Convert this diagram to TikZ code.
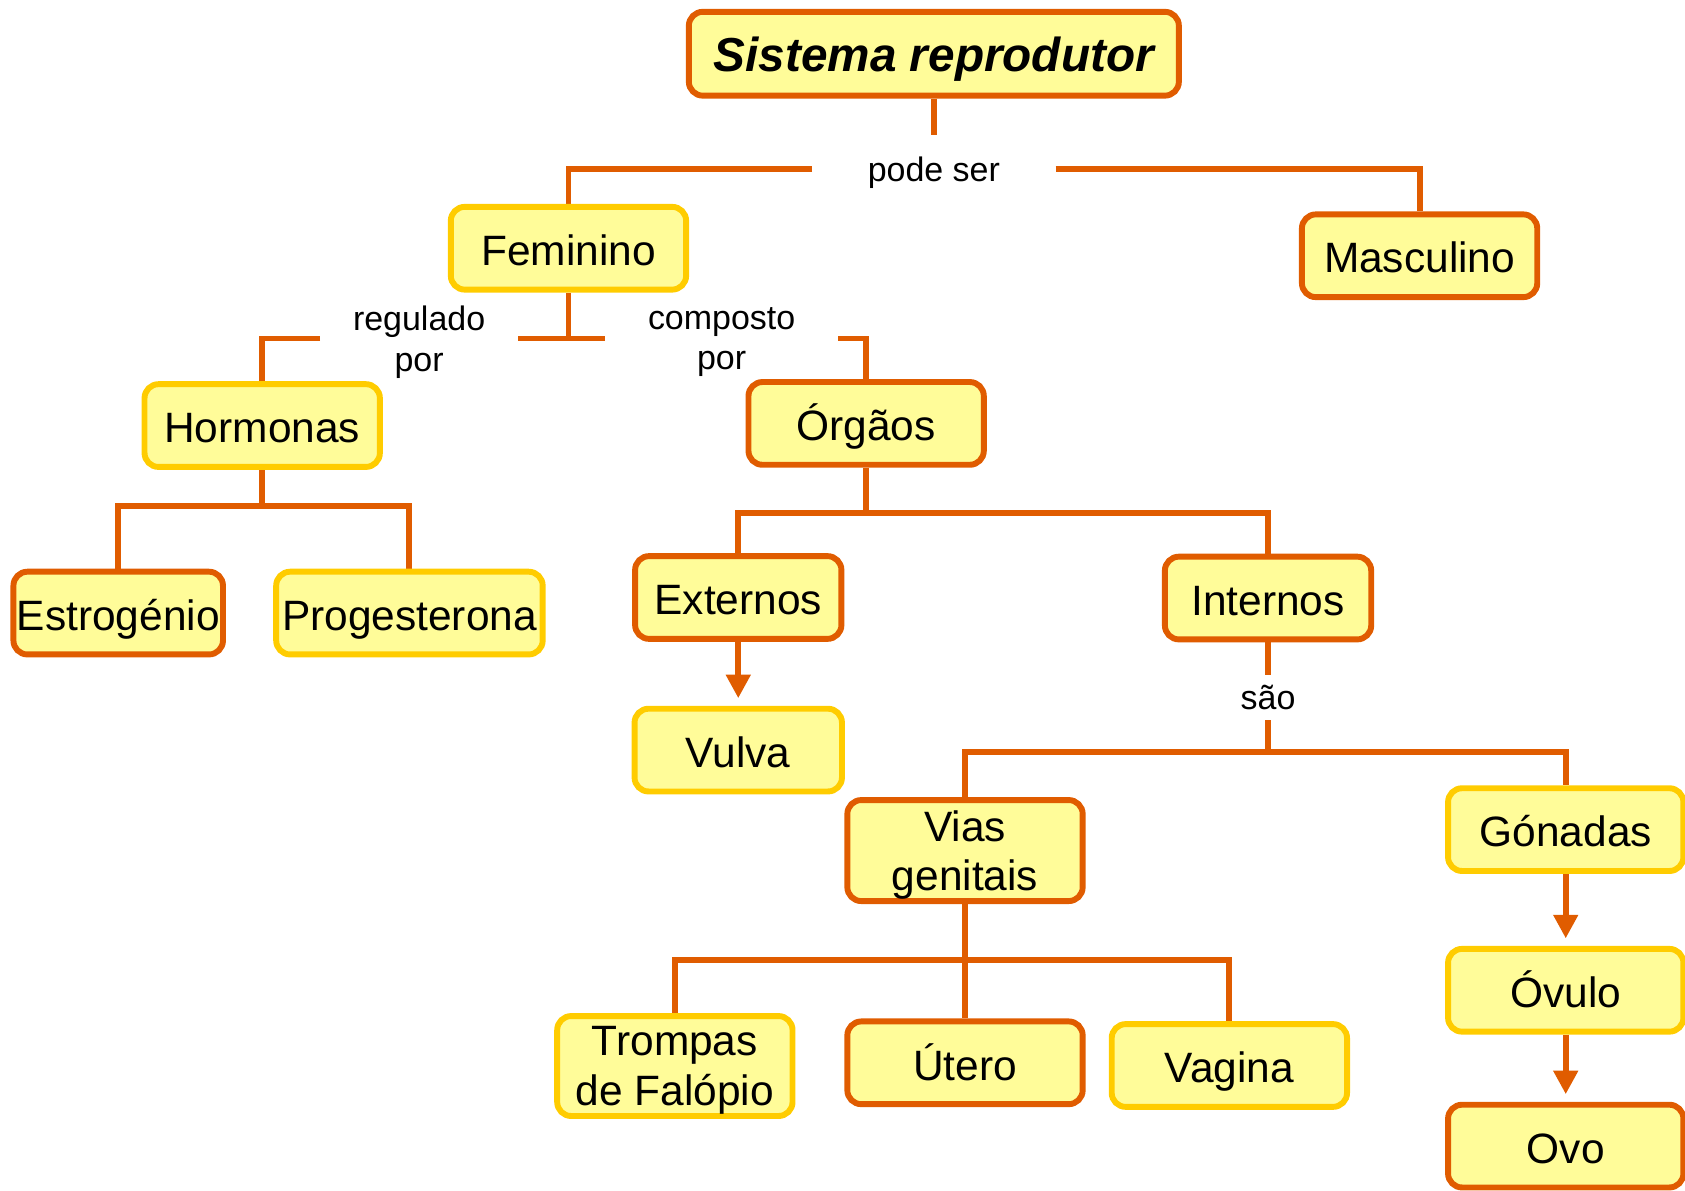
\documentclass[tikz,border=0pt]{standalone}
\usepackage{fontspec}
\setmainfont{Liberation Sans}
\usetikzlibrary{arrows.meta,backgrounds}
\definecolor{laranja}{HTML}{E05C00}
\definecolor{ouro}{HTML}{FFCC00}
\definecolor{amarelo}{HTML}{FFFC99}
\tikzset{
	caixa/.style={rectangle, rounded corners=13pt, fill=amarelo, line width=5.5pt, minimum width=219pt, minimum height=77pt, align=center, inner sep=0pt, text height=36pt, text depth=4pt, font=\fontsize{39.5}{46}\selectfont},
	cl/.style={caixa, draw=laranja},
	co/.style={caixa, draw=ouro},
	duas/.style={text height=, text depth=-2pt},
	rotulo/.style={align=center, inner sep=0pt, text depth=0pt, font=\fontsize{31.6}{38}\selectfont},
	liga/.style={draw=laranja, line width=5.5pt},
	seta/.style={liga, -{Triangle[width=22pt,length=22pt]}, shorten >=7pt},
}
\begin{document}
\begin{tikzpicture}[x=1pt, y=-1pt]
		\useasboundingbox (0,0) rectangle (1568,1108);

		\node[cl, minimum width=456pt, minimum height=78pt, text height=40pt, text depth=6pt, font=\fontsize{44.4}{50}\selectfont\bfseries\itshape] (sistema) at (869,50) {Sistema reprodutor};
		\node[rotulo, minimum width=226pt, minimum height=62pt] (podeser) at (869,157) {pode ser};
		\node[co] (feminino) at (529,231) {Feminino};
		\node[cl] (masculino) at (1321,238) {Masculino};

		\node[rotulo, minimum width=184pt] (regulado) at (390,315) {regulado\\por};
		\node[rotulo, minimum width=217pt] (composto) at (671.5,315) {composto\\por};
		\node[co] (hormonas) at (244,396) {Hormonas};
		\node[cl] (orgaos) at (806,394) {Órgãos};

		\node[cl, minimum width=195pt] (estrogenio) at (110,570.5) {Estrogénio};
		\node[co, minimum width=248pt] (progesterona) at (381,570.5) {Progesterona};
		\node[cl, minimum width=192pt] (externos) at (687,556) {Externos};
		\node[cl, minimum width=192pt] (internos) at (1180,556.5) {Internos};

		\node[co, minimum width=193pt] (vulva) at (687,698) {Vulva};
		\node[rotulo, minimum height=42pt] (sao) at (1180,649) {são};
		\node[cl, duas, minimum height=94pt] (vias) at (898,791.5) {Vias\\genitais};
		\node[co] (gonadas) at (1457,772) {Gónadas};
		\node[co] (ovulo) at (1457,921.5) {Óvulo};
		\node[cl] (ovo) at (1457,1066.5) {Ovo};

		\node[co, duas, minimum height=93pt] (trompas) at (628,992) {Trompas\\de Falópio};
		\node[cl] (utero) at (898,989) {Útero};
		\node[co] (vagina) at (1144,991.5) {Vagina};

		\coordinate (barrahorm) at (244,471);
		\coordinate (barraorg) at (806,477);
		\coordinate (barraint) at (1180,700);
		\coordinate (barravias) at (898,893);

		\begin{scope}[on background layer]
			\draw[liga] (sistema) -- (podeser);
			\draw[liga] (podeser.west) -| (feminino);
			\draw[liga] (podeser.east) -| (masculino);

			\draw[liga] (feminino) -- (feminino |- regulado.east);
			\draw[liga] (regulado.east) -- (composto.west);
			\draw[liga] (regulado.west) -| (hormonas);
			\draw[liga] (composto.east) -| (orgaos);

			\draw[liga] (hormonas) -- (barrahorm);
			\draw[liga] (estrogenio) |- (barrahorm) -| (progesterona);
			\draw[liga] (orgaos) -- (barraorg);
			\draw[liga] (externos) |- (barraorg) -| (internos);

			\draw[seta] (externos) -- (vulva);
			\draw[liga] (internos) -- (sao);
			\draw[liga] (sao) -- (barraint);
			\draw[liga] (vias) |- (barraint) -| (gonadas);
			\draw[seta] (gonadas) -- (ovulo);
			\draw[seta] (ovulo) -- (ovo);

			\draw[liga] (vias) -- (barravias);
			\draw[liga] (trompas) |- (barravias) -| (vagina);
			\draw[liga] (barravias) -- (utero);
		\end{scope}
	\end{tikzpicture}
\end{document}
